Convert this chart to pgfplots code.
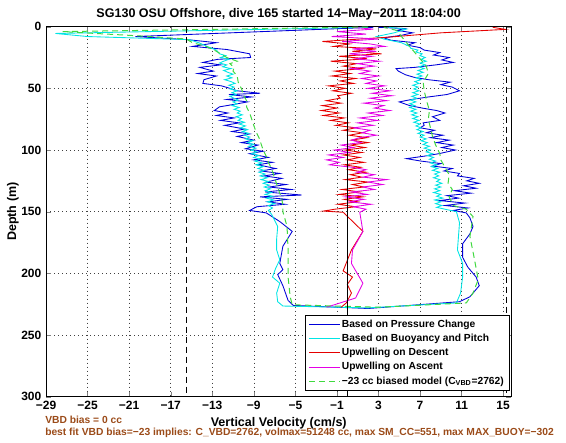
\documentclass[border=0pt]{standalone}
\usepackage{pgfplots}
\pgfplotsset{compat=1.18}
\usepackage{fontspec}
\setmainfont{Liberation Sans}
\definecolor{mblue}{rgb}{0,0,0.85}
\definecolor{mcyan}{rgb}{0,0.9,0.9}
\definecolor{mred}{rgb}{0.9,0,0}
\definecolor{mmag}{rgb}{0.9,0,0.9}
\definecolor{mgreen}{rgb}{0.25,0.85,0.25}
\definecolor{mbrown}{RGB}{155,75,25}
\begin{document}
\begin{tikzpicture}
\useasboundingbox (0,0) rectangle (424.5pt,331.5pt);
\begin{axis}[
  at={(34.5pt,34pt)}, anchor=south west,
  scale only axis, width=349.1pt, height=277.5pt,
  xmin=-29, xmax=15.8, ymin=0, ymax=300, y dir=reverse,
  xtick={-29,-25,...,15},
  xticklabels={−29,−25,−21,−17,−13,−9,−5,−1,3,7,11,15},
  ytick={0,50,...,300}, yticklabels={0,50,100,150,200,250,300},
  tick align=inside, major tick length=3.75pt,
  ticklabel style={font=\bfseries\fontsize{9}{10}\selectfont},
  grid=major, major grid style={black!75, line width=0.4pt, dash pattern=on 0.6pt off 2.4pt},
  axis line style={line width=0.6pt},
  xlabel={Vertical Velocity (cm/s)},
  xlabel style={at={(axis description cs:0.5,-0.072)}, anchor=center, font=\bfseries\fontsize{9.4}{11}\selectfont},
  ylabel={Depth (m)},
  ylabel style={at={(axis description cs:-0.071,0.5)}, anchor=center, font=\bfseries\fontsize{9.4}{11}\selectfont},
  legend cell align=left,
  legend style={at={(0.9957,0.0154)}, anchor=south east, draw=black, line width=0.5pt, fill=white,
    font=\bfseries\fontsize{7.7}{9}\selectfont, inner xsep=3pt, inner ysep=2.4pt, row sep=1.6pt,
    nodes={inner sep=1pt}},
  legend image code/.code={\draw[#1] (0pt,0pt) -- (23pt,0pt);},
]
% Based on Pressure Change
\addplot[mblue, line width=0.65pt] coordinates {
(2.5,0.5) (-20.4,8) (-15.4,10.5) (-12.6,13) (-14.9,16) (-11.6,18.5) (-9.4,22) (-9.3,25)
(-12.5,26.5) (-13.9,29) (-12.2,31) (-14.2,33) (-12.9,36) (-14.4,38) (-12.6,40) (-13.8,43)
(-13.9,46) (-12.1,48) (-11.3,50) (-10.6,52) (-8.4,54) (-11.4,55) (-9.2,57) (-11.6,59)
(-9.6,61) (-10.9,63) (-12.3,65) (-12.8,68) (-11.5,70) (-12.6,72) (-10.9,74) (-12.2,76)
(-10.4,78) (-11.8,80) (-9.9,83) (-11.1,85) (-9.4,87) (-10.6,89) (-9.0,92) (-10.2,94)
(-8.6,96) (-9.8,99) (-8.1,101) (-9.4,103) (-7.6,106) (-9.0,108) (-7.2,110) (-8.6,112)
(-6.9,115) (-8.3,117) (-6.5,119) (-8.0,121) (-6.3,123) (-7.8,126) (-5.9,128) (-7.5,130)
(-5.4,132) (-7.9,134) (-4.4,136.5) (-8.4,138) (-5.8,140) (-7.6,142) (-6.0,144) (-8.7,146)
(-9.4,149) (-7.8,151) (-6.5,158) (-5.3,166) (-6.2,178) (-6.5,192) (-6.2,197) (-6.7,201)
(-6.2,210) (-5.7,222) (-5.2,226) (2,228.5) (10.8,223)
(11.8,219) (12.7,210) (12.4,203) (11.6,195) (11.1,187) (11.1,176) (11.8,168) (12.1,162)
(11.8,155) (11.45,151) (10.2,149) (11.6,147) (9.4,145) (11.3,143) (8.9,141) (10.7,139)
(9.6,137) (11.9,135) (10.3,133) (12.4,131) (11.2,129) (12.7,127) (11.5,125) (12.2,123)
(10.6,121) (10.8,119) (9.3,117) (10.1,115) (8.2,113) (9.0,111) (7.1,109) (5.7,107)
(7.4,105) (8.8,103) (10.4,100) (9.1,98) (10.2,96) (8.6,94) (9.8,92) (8.0,90) (9.2,88)
(7.6,86) (8.4,84) (7.0,82) (7.4,80) (7.3,78) (8.9,76) (8.2,73) (9.4,70) (8.6,68) (7.2,66)
(6.0,64) (5.0,61) (6.2,59) (7.8,57) (9.6,55) (10.8,52) (10.1,49) (9.0,47) (9.9,45)
(7.8,43) (6.4,41) (5.6,39) (4.9,36) (4.7,34) (6.5,33) (8.5,31) (10.2,29) (9.1,27)
(9.8,25) (8.3,23) (8.9,21) (7.4,19) (7.0,17) (5.8,15) (6.5,13) (4.2,11) (3.5,9) (5.2,7)
(6.3,5) (4.8,3) (5.5,1.5) (3,0.5)
};
\addlegendentry{Based on Pressure Change}
% Based on Buoyancy and Pitch
\addplot[mcyan, line width=0.65pt] coordinates {
(2,0.5) (-28.1,5.5) (-25,8) (-15.2,10.5) (-14.3,13) (-13.5,16) (-12.6,19)
(-12.3,22) (-11.7,23.5) (-12.2,25) (-11.4,26.5) (-11.9,28) (-12.3,29.5) (-11.6,31) (-12.0,32.5)
(-11.2,34) (-11.9,35.5) (-11.5,37) (-11.0,38.5) (-11.6,40) (-11.1,41.5) (-11.8,43) (-11.2,44.5)
(-10.8,46) (-11.4,47.5) (-10.9,49) (-11.3,50.5) (-10.6,52) (-11.1,53.5) (-10.7,55) (-11.3,56.5)
(-10.9,58) (-10.5,59.5) (-11.0,61) (-10.6,62.5) (-11.1,64) (-10.4,65.5) (-10.9,67) (-10.3,68.5)
(-10.6,70) (-10.1,71.5) (-10.7,73) (-10.2,74.5) (-10.5,76) (-9.9,77.5) (-10.4,79) (-9.8,80.5)
(-10.3,82) (-9.6,83.5) (-10.1,85) (-9.5,86.5) (-9.9,88) (-9.4,89.5) (-9.8,91) (-9.1,92.5)
(-9.6,94) (-9.0,95.5) (-9.5,97) (-8.8,98.5) (-9.3,100) (-8.7,101.5) (-9.2,103) (-8.5,104.5)
(-9.0,106) (-8.4,107.5) (-8.9,109) (-8.2,110.5) (-8.8,112) (-8.1,113.5) (-8.6,115) (-8.0,116.5)
(-8.5,118) (-7.9,119.5) (-8.4,121) (-7.7,122.5) (-8.3,124) (-7.6,125.5) (-8.1,127) (-7.5,128.5)
(-8.0,130) (-7.4,131.5) (-7.9,133) (-7.3,134.5) (-7.9,136) (-7.2,137.5) (-7.8,139) (-7.1,140.5)
(-7.7,142) (-7.0,143.5) (-7.6,145) (-7.2,147) (-7.6,149)
(-7.3,152) (-6.7,162) (-6.8,172) (-6.8,181) (-6.5,189) (-6.9,196) (-7.2,203)
(-6.5,208) (-6.8,216) (-6.7,223) (-6.2,226.5) (2,228) (10.5,224)
(10.9,216) (11.1,203) (11.1,192) (10.6,181) (10.7,170) (10.8,159) (10.5,150)
(9.4,148) (8.6,146.5) (9.1,145) (8.5,143.5) (9.0,142) (8.4,140.5) (9.2,139) (8.6,137.5)
(9.0,136) (8.3,134.5) (8.9,133) (8.4,131.5) (9.0,130) (8.5,128.5) (9.1,127) (8.6,125.5)
(8.9,124) (8.3,122.5) (8.8,121) (8.4,119.5) (8.9,118) (8.2,116.5) (8.7,115) (8.1,113.5)
(8.6,112) (8.0,110.5) (8.5,109) (7.9,107.5) (8.3,106) (7.7,104.5) (8.2,103) (7.6,101.5)
(8.0,100) (7.4,98.5) (7.9,97) (7.3,95.5) (7.7,94) (7.1,92.5) (7.6,91) (7.0,89.5)
(7.4,88) (6.8,86.5) (7.3,85) (6.7,83.5) (7.1,82) (6.6,80.5) (7.0,79) (6.4,77.5)
(6.9,76) (6.3,74.5) (6.8,73) (6.2,71.5) (6.7,70) (6.1,68.5) (6.6,67) (6.0,65.5)
(6.5,64) (6.0,62.5) (6.6,61) (6.1,59.5) (6.7,58) (6.2,56.5) (6.8,55) (6.3,53.5)
(6.9,52) (6.4,50.5) (6.8,49) (6.3,47.5) (6.9,46) (6.5,44.5) (7.1,43) (6.6,41.5)
(7.2,40) (6.7,38.5) (7.3,37) (6.8,35.5) (7.4,34) (6.9,32.5) (7.5,31) (7.0,29.5)
(7.6,28) (7.1,26.5) (7.5,25) (7.0,23.5) (7.2,22) (6.6,20.5) (6.8,19) (6.1,17.5)
(6.0,16) (5.2,13) (3.5,10) (2.8,8) (4.5,5) (5.7,2) (4,0.5)
};
\addlegendentry{Based on Buoyancy and Pitch}
% Upwelling on Descent
\addplot[mred, line width=0.65pt] coordinates {
(14,0.5) (15.2,2.2) (9,5) (4,8.5) (-2.4,12) (0.2,14) (-1.3,16) (2.8,18) (0.5,20) (3.3,22)
(-0.8,24) (1.9,26) (-1.6,28) (0.9,30) (-0.4,32) (1.4,34) (-1.2,36) (0.3,38) (-1.5,40)
(0.8,42) (-0.7,44) (0.6,46) (-1.8,48) (-0.2,50) (-1.4,52) (0.4,54) (-0.9,56) (-0.7,58)
(-2.0,60) (-0.6,62) (-2.4,64) (-1.0,66) (-2.5,68) (-0.8,70) (-2.3,72) (-0.3,74) (-1.6,76)
(0.1,78) (-1.1,80) (0.8,82) (-0.4,84) (1.5,86) (0.2,88) (1.9,90) (0.4,92) (2.0,94)
(0.3,96) (1.7,98) (-0.2,100) (1.4,102) (-0.4,104) (1.2,106) (0.0,108) (1.6,110)
(-0.3,112) (1.3,114) (0.1,116) (1.8,118) (0.3,120) (1.4,122) (-0.2,124) (2.0,126)
(0.5,128) (1.6,130) (-0.5,132) (1.2,134) (-0.8,136) (1.5,138) (-0.3,140) (1.0,142)
(-0.9,144) (0.8,146) (-1.2,148) (-2.3,149.5) (-0.4,150.5) (0.4,157) (1.5,166) (0.4,181)
(-0.4,198) (0.5,203) (0,209) (0.4,216) (-0.1,224) (-0.6,227.5)
};
\addlegendentry{Upwelling on Descent}
% Upwelling on Ascent
\addplot[mmag, line width=0.65pt] coordinates {
(0.5,0.5) (2.5,2) (-1.0,4) (1.8,6) (-1.5,8) (3.0,10) (-0.5,12) (2.2,14) (3.6,16) (0.5,18)
(2.8,20) (0.2,22) (2.4,24) (0.8,26) (3.1,28) (1.0,30) (2.6,32) (0.4,34) (2.2,36) (1.2,38)
(3.0,40) (1.4,42) (2.8,44) (1.8,46) (3.6,48) (2.0,50) (4.1,52) (2.4,54) (4.3,56) (2.2,58)
(3.8,60) (1.6,62) (3.5,64) (2.6,66) (4.1,68) (2.0,70) (3.4,72) (1.2,74) (2.9,76) (1.0,78)
(2.5,80) (0.6,82) (2.2,84) (1.4,86) (2.8,88) (1.2,90) (0.4,92) (1.3,94) (-0.6,96) (0.6,98)
(-1.2,100) (0.2,102) (-1.8,104) (-0.4,106) (-2.0,108) (-0.8,110) (-1.7,112) (0.5,114)
(1.8,116) (0.9,118) (2.6,120) (1.5,122) (3.8,124) (2.0,126) (3.4,128) (1.5,130) (2.6,132)
(0.4,134) (1.9,136) (-0.2,138) (1.6,140) (0.2,142) (2.3,144) (0.6,146) (1.8,148)
(1.2,150.5) (1.5,166) (0.5,181) (0.4,192) (1.5,208) (0.8,220) (-2,227.5)
};
\addlegendentry{Upwelling on Ascent}
% model
\addplot[mgreen, line width=0.75pt, dash pattern=on 4.5pt off 3pt] coordinates {
(2,0.3) (-27.4,4) (-20,7.5) (-15.5,10) (-14.9,13) (-13.6,16) (-12.8,19) (-12.2,22)
(-11.6,25) (-10.6,28) (-11.3,30) (-10.9,33) (-11.0,36) (-10.6,40) (-10.5,45) (-10.2,50)
(-10.0,55) (-9.7,60) (-9.7,65) (-9.4,70) (-9.2,75) (-9.0,80) (-8.8,85) (-8.5,90) (-8.3,95)
(-8.1,100) (-7.8,105) (-7.6,110) (-7.3,115) (-7.1,120) (-6.9,125) (-6.7,130) (-6.5,135)
(-6.3,140) (-6.2,145) (-6.2,150) (-5.8,162) (-5.7,181) (-5.7,203) (-5.5,219) (-5.3,225.5)
(3,227.5) (11.45,224) (12.1,216) (12.6,205) (12.2,187) (11.8,170) (12.1,154) (11.45,148)
(10.2,145) (9.8,138) (10.1,132) (9.7,127) (9.8,120) (9.4,114) (9.0,108) (8.9,103) (8.5,96)
(8.2,89) (8.0,82) (7.8,75) (7.9,68) (7.6,59) (7.4,52) (7.3,45) (7.8,38) (7.6,32) (7.0,26)
(6.3,19) (5.6,12) (4.75,3) (3.5,0.5)
};
\addlegendentry{−23 cc biased model (C\textsubscript{VBD}=2762)}
% reference lines
\addplot[black, line width=0.6pt, forget plot] coordinates {(0,0) (0,300)};
\addplot[black, line width=0.6pt, dash pattern=on 4.5pt off 3pt, forget plot] coordinates {(-15.5,0) (-15.5,300)};
\addplot[black, line width=0.6pt, dash pattern=on 4.5pt off 3pt, forget plot] coordinates {(15.3,0) (15.3,300)};
\end{axis}
\node[anchor=center, inner sep=0pt, font=\bfseries\fontsize{9.4}{11}\selectfont] at (209pt,320.6pt) {SG130 OSU Offshore, dive 165 started 14−May−2011 18:04:00};
\node[anchor=west, inner sep=0pt, text=mbrown, font=\bfseries\fontsize{7.7}{9}\selectfont] at (33.75pt,16.5pt) {VBD bias = 0 cc};
\node[anchor=west, inner sep=0pt, text=mbrown, font=\bfseries\fontsize{7.7}{9}\selectfont] at (33.75pt,6.75pt) {best fit VBD bias=−23 implies: C\_VBD=2762, volmax=51248 cc, max SM\_CC=551, max MAX\_BUOY=−302};
\end{tikzpicture}
\end{document}
